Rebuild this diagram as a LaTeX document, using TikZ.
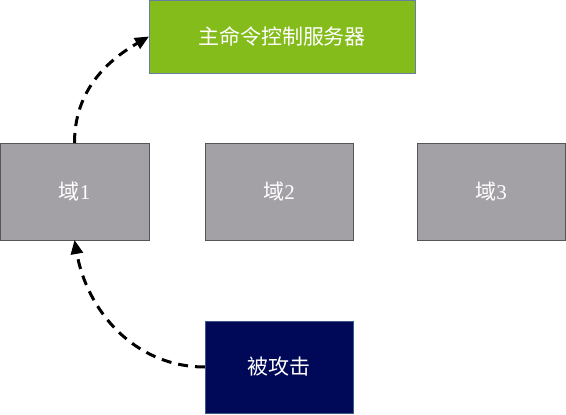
\documentclass[tikz,border=0pt]{standalone}
\usepackage{fontspec}
\setmainfont{Liberation Serif}
\newfontfamily\cjk{Noto Sans CJK SC}
\usetikzlibrary{arrows.meta}
\definecolor{cgreen}{HTML}{84BC1C}
\definecolor{cgreenb}{HTML}{6A7FA0}
\definecolor{cgrey}{HTML}{A4A1A6}
\definecolor{cgreyb}{HTML}{555555}
\definecolor{cnavy}{HTML}{000958}
\definecolor{cnavyb}{HTML}{3A5A8C}
\tikzset{
  box/.style={draw, line width=1pt, inner sep=0pt, outer sep=0pt, text=white, font=\fontsize{21}{24}\selectfont},
  greybox/.style={box, fill=cgrey, draw=cgreyb, minimum height=97pt},
  flow/.style={line width=3pt, dash pattern=on 10pt off 7pt, -{Triangle[length=14pt,width=12pt]}}
}
\begin{document}
\begin{tikzpicture}[x=1pt,y=-1pt]
\useasboundingbox (0,0) rectangle (566,415);
\node[box, fill=cgreen, draw=cgreenb, minimum width=266pt, minimum height=73pt] (srv) at (282,36.5) {\cjk 主命令控制服务器};
\node[greybox, minimum width=149pt] (d1) at (74.5,191.5) {{\cjk 域}1};
\node[greybox, minimum width=148pt] (d2) at (279,191.5) {{\cjk 域}2};
\node[greybox, minimum width=148pt] (d3) at (491,191.5) {{\cjk 域}3};
\node[box, fill=cnavy, draw=cnavyb, minimum width=148pt, minimum height=92pt] (atk) at (279,367) {\cjk 被攻击};
\draw[flow] (d1.north) to[out=90, in=210] (srv.west);
\draw[flow] (atk.west) to[out=180, in=-80] (d1.south);
\end{tikzpicture}
\end{document}
